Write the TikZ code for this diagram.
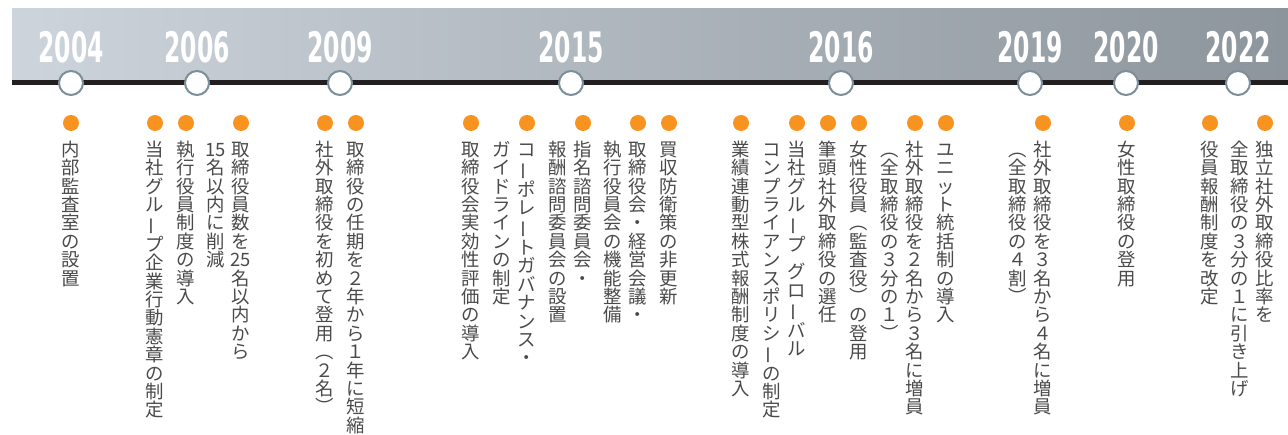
\documentclass[tikz,border=0pt]{standalone}
\usepackage{fontspec}
\newfontfamily\jpfont{Noto Sans CJK JP}
\newfontfamily\yearfont[FakeStretch=0.56]{DejaVu Sans}
% vertical (tategaki) columns: one character per 1em cell
\def\tend{\tend@}
\def\tgap{\tgap@}
\newcommand{\tcell}[1]{\hbox to 1em{\hss\vrule width0pt height0.88em depth0.12em\relax#1\hss}}
\def\tloop#1{\ifx\tend#1\else\ifx\tgap#1\kern0.5em\else\tcell{#1}\fi\expandafter\tloop\fi}
\newcommand{\tcol}[1]{\vtop{\offinterlineskip\tloop#1\tend}}
\newcommand{\tcols}[2]{\hbox{\tcol{#2}\kern6.6pt\tcol{#1}}}
\newcommand{\V}{\rotatebox[origin=c]{90}{ー}}
\definecolor{bandleft}{HTML}{CDD4DB}
\definecolor{bandright}{HTML}{8D959C}
\definecolor{ringgray}{HTML}{7B8F9B}
\definecolor{dotorange}{HTML}{F7931E}
\definecolor{textgray}{HTML}{4A4A4A}
\definecolor{axisblack}{HTML}{231F20}

\begin{document}
\begin{tikzpicture}[x=1pt,y=-1pt,
    year/.style={anchor=base, text=white, font=\yearfont\bfseries\fontsize{42}{42}\selectfont},
    ring/.style={circle, fill=white, draw=ringgray, line width=2pt, minimum size=24pt, inner sep=0pt},
    dot/.style={circle, fill=dotorange, minimum size=16pt, inner sep=0pt},
    item/.style={anchor=north, inner sep=0pt, text=textgray, font=\jpfont\fontsize{18.4}{18.4}\selectfont},
    item2/.style={item, anchor=north east}]
    \useasboundingbox (0,0) rectangle (1288,435);
    \shade[left color=bandleft, right color=bandright] (12,9) rectangle (1288,83); % banner
    \coordinate (lstart) at (12,83);
    \coordinate (lend) at (1288,83);
    \draw[line width=5pt, axisblack] (lstart) -- (lend); % time axis

    % years
    \node[ring] (c2004) at (71,83) {};
    \node[year] (y2004) at (71,63) {2004};
    \node[ring] (c2006) at (197,83) {};
    \node[year] (y2006) at (197,63) {2006};
    \node[ring] (c2009) at (340,83) {};
    \node[year] (y2009) at (340,63) {2009};
    \node[ring] (c2015) at (571,83) {};
    \node[year] (y2015) at (571,63) {2015};
    \node[ring] (c2016) at (841,83) {};
    \node[year] (y2016) at (841,63) {2016};
    \node[ring] (c2019) at (1030,83) {};
    \node[year] (y2019) at (1030,63) {2019};
    \node[ring] (c2020) at (1126,83) {};
    \node[year] (y2020) at (1126,63) {2020};
    \node[ring] (c2022) at (1238,83) {};
    \node[year] (y2022) at (1238,63) {2022};

    % events
    \node[dot] (d1) at (71,123) {};
    \node[item] (e1) at (71,140) {\tcol{内部監査室の設置}};
    \node[dot] (d2) at (155,123) {};
    \node[item] (e2) at (155,140) {\tcol{当社グル\V プ企業行動憲章の制定}};
    \node[dot] (d3) at (186,123) {};
    \node[item] (e3) at (186,140) {\tcol{執行役員制度の導入}};
    \node[dot] (d4) at (241,123) {};
    \node[item2] (e4) at (250.2,140) {\tcols{取締役員数を{25}名以内から}{{15}名以内に削減}};
    \node[dot] (d5) at (325,123) {};
    \node[item] (e5) at (325,140) {\tcol{社外取締役を初めて登用︵２名︶}};
    \node[dot] (d6) at (356,123) {};
    \node[item] (e6) at (356,140) {\tcol{取締役の任期を２年から１年に短縮}};
    \node[dot] (d7) at (471,123) {};
    \node[item] (e7) at (471,140) {\tcol{取締役会実効性評価の導入}};
    \node[dot] (d8) at (527,123) {};
    \node[item2] (e8) at (536.2,140) {\tcols{コ\V ポレ\V トガバナンス・}{ガイドラインの制定}};
    \node[dot] (d9) at (583,123) {};
    \node[item2] (e9) at (592.2,140) {\tcols{指名諮問委員会・}{報酬諮問委員会の設置}};
    \node[dot] (d10) at (638,123) {};
    \node[item2] (e10) at (647.2,140) {\tcols{取締役会・経営会議・}{執行役員会の機能整備}};
    \node[dot] (d11) at (669,123) {};
    \node[item] (e11) at (669,140) {\tcol{買収防衛策の非更新}};
    \node[dot] (d12) at (741,123) {};
    \node[item] (e12) at (741,140) {\tcol{業績連動型株式報酬制度の導入}};
    \node[dot] (d13) at (797,123) {};
    \node[item2] (e13) at (806.2,140) {\tcols{当社グル\V プ\tgap グロ\V バル}{コンプライアンスポリシ\V の制定}};
    \node[dot] (d14) at (828,123) {};
    \node[item] (e14) at (828,140) {\tcol{筆頭社外取締役の選任}};
    \node[dot] (d15) at (859,123) {};
    \node[item] (e15) at (859,140) {\tcol{女性役員︵監査役︶の登用}};
    \node[dot] (d16) at (915,123) {};
    \node[item2] (e16) at (924.2,140) {\tcols{社外取締役を２名から３名に増員}{︵全取締役の３分の１︶}};
    \node[dot] (d17) at (946,123) {};
    \node[item] (e17) at (946,140) {\tcol{ユニット統括制の導入}};
    \node[dot] (d18) at (1043,123) {};
    \node[item2] (e18) at (1052.2,140) {\tcols{社外取締役を３名から４名に増員}{︵全取締役の４割︶}};
    \node[dot] (d19) at (1127,123) {};
    \node[item] (e19) at (1127,140) {\tcol{女性取締役の登用}};
    \node[dot] (d20) at (1210,123) {};
    \node[item] (e20) at (1210,140) {\tcol{役員報酬制度を改定}};
    \node[dot] (d21) at (1265,123) {};
    \node[item2] (e21) at (1274.2,140) {\tcols{独立社外取締役比率を}{全取締役の３分の１に引き上げ}};
\end{tikzpicture}
\end{document}
